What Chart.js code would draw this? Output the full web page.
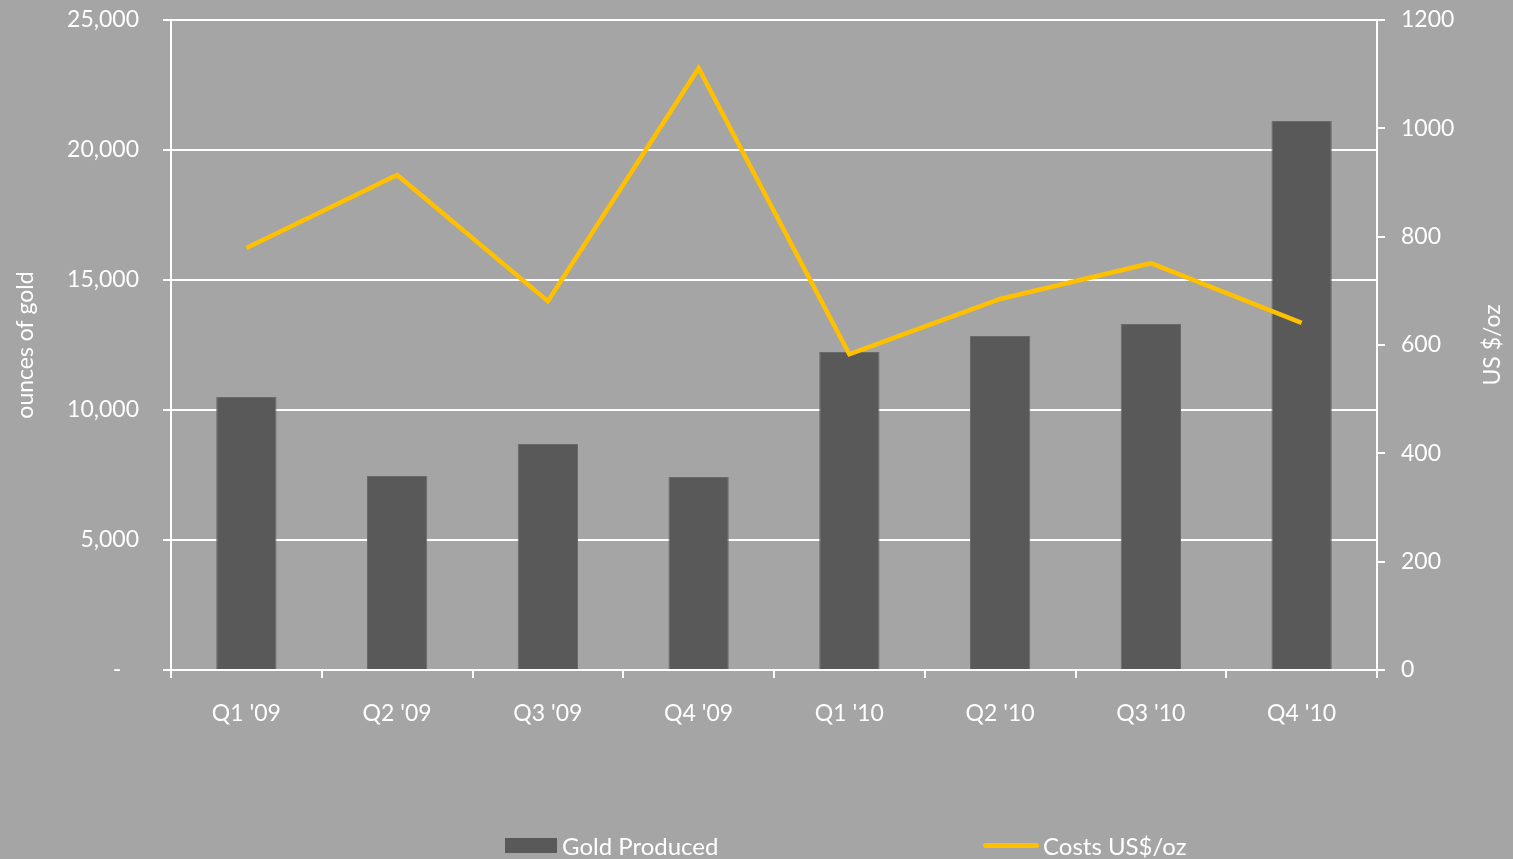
<!DOCTYPE html>
<html>
<head>
<meta charset="utf-8">
<script src="https://cdn.jsdelivr.net/npm/chart.js@4/dist/chart.umd.min.js"></script>
<style>
  html, body { margin: 0; padding: 0; background: #a5a5a5; }
  #wrap { position: relative; width: 1513px; height: 859px; }
  canvas { position: absolute; left: 0; top: 0; }
  .leg { position: absolute; top: 830px; font-family: Lato, sans-serif; font-size: 24px; color: #fff; display: flex; align-items: center; height: 30px; }
  .leg .box { width: 52px; height: 15px; background: #595959; margin-right: 5px; }
  .leg .ln { width: 56px; height: 5px; border-radius: 3px; background: #ffc000; margin-right: 4px; }
</style>
</head>
<body>
<div id="wrap">
  <canvas id="chart" width="1513" height="859"></canvas>
  <div class="leg" style="left:505px"><span class="box"></span>Gold Produced</div>
  <div class="leg" style="left:983px"><span class="ln"></span>Costs US$/oz</div>
</div>
<script>
const quarters = ["Q1 '09", "Q2 '09", "Q3 '09", "Q4 '09", "Q1 '10", "Q2 '10", "Q3 '10", "Q4 '10"];
const goldProduced = [10500, 7460, 8690, 7420, 12230, 12850, 13310, 21120];
const costsPerOz = [779, 914, 681, 1111, 583, 685, 751, 641];

const white = '#ffffff';
const tickFont = { family: 'Lato', size: 23 };

// right axis title reads bottom-to-top, like the left one
const rightTitle = {
  id: 'rightTitle',
  afterDraw(chart) {
    const s = chart.scales.yCost;
    const ctx = chart.ctx;
    ctx.save();
    ctx.translate(1493, (s.top + s.bottom) / 2);
    ctx.rotate(-Math.PI / 2);
    ctx.fillStyle = white;
    ctx.font = '23px Lato';
    ctx.textAlign = 'center';
    ctx.textBaseline = 'middle';
    ctx.fillText('US $/oz', 0, 0);
    ctx.restore();
  },
};

// keep the plot box where the picture has it
function fixY(width) {
  return (s) => {
    s.width = width;
    s.paddingTop = 0;
    s.paddingBottom = 0;
  };
}

new Chart(document.getElementById('chart').getContext('2d'), {
  data: {
    labels: quarters,
    datasets: [
      {
        type: 'line',
        label: 'Costs US$/oz',
        data: costsPerOz,
        yAxisID: 'yCost',
        borderColor: '#ffc000',
        borderWidth: 4.5,
        pointRadius: 0,
        tension: 0,
        order: 0,
      },
      {
        type: 'bar',
        label: 'Gold Produced',
        data: goldProduced,
        yAxisID: 'yGold',
        backgroundColor: '#595959',
        borderColor: '#6a6a6a',
        borderWidth: 1,
        barPercentage: 0.4,
        categoryPercentage: 1,
        order: 1,
      },
    ],
  },
  plugins: [rightTitle],
  options: {
    responsive: false,
    animation: false,
    layout: { padding: { top: 20, bottom: 0, left: 0, right: 0 } },
    plugins: { legend: { display: false }, tooltip: { enabled: false } },
    scales: {
      x: {
        offset: true,
        grid: { offset: true, drawOnChartArea: false, color: white, lineWidth: 2, tickLength: 8 },
        border: { color: white, width: 2 },
        ticks: { color: white, font: tickFont, padding: 22, maxRotation: 0 },
        afterFit: (s) => { s.height = 189; },
      },
      yGold: {
        position: 'left',
        min: 0,
        max: 25000,
        ticks: {
          stepSize: 5000,
          color: white,
          font: tickFont,
          padding: 24,
          callback: (v) => (v === 0 ? '-   ' : v.toLocaleString('en-US')),
        },
        grid: { color: white, lineWidth: 2, tickLength: 8 },
        border: { color: white, width: 2 },
        title: { display: true, text: 'ounces of gold', color: white, font: tickFont, padding: { top: 12 } },
        afterFit: fixY(171),
      },
      yCost: {
        position: 'right',
        min: 0,
        max: 1200,
        ticks: { stepSize: 200, color: white, font: tickFont, padding: 16, callback: (v) => String(v) },
        grid: { drawOnChartArea: false, color: white, lineWidth: 2, tickLength: 8 },
        border: { color: white, width: 2 },
        afterFit: fixY(136),
      },
    },
  },
});
</script>
</body>
</html>
